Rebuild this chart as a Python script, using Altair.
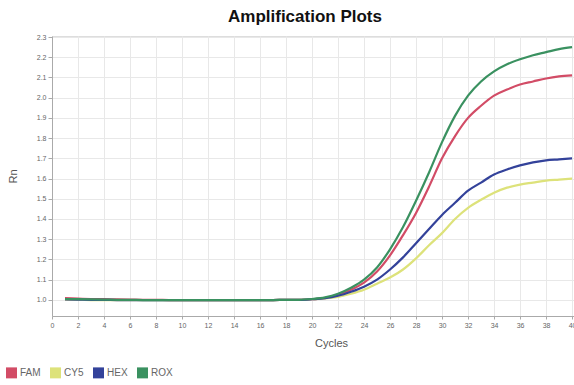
import altair as alt
import pandas as pd

# Cycle numbers and normalized reporter signal (Rn) for each dye
cycles = list(range(1, 41))

fam = [1.008, 1.006, 1.004, 1.003, 1.002, 1.001, 1.000, 1.000, 0.999, 0.999,
       0.999, 0.999, 0.999, 0.999, 0.999, 0.999, 0.999, 1.000, 1.000,
       1.003, 1.008, 1.025, 1.05, 1.085, 1.14, 1.22, 1.32, 1.43, 1.56, 1.70,
       1.81, 1.90, 1.96, 2.01, 2.04, 2.065, 2.08, 2.095, 2.105, 2.11]

cy5 = [1.000, 1.000, 0.999, 0.999, 0.999, 0.999, 0.999, 0.999, 0.999, 0.999,
       0.999, 0.999, 0.999, 0.999, 0.999, 0.999, 0.999, 1.000, 1.000,
       1.003, 1.007, 1.015, 1.03, 1.05, 1.08, 1.11, 1.15, 1.205, 1.27, 1.33,
       1.40, 1.455, 1.495, 1.53, 1.555, 1.57, 1.58, 1.59, 1.595, 1.60]

hex_ = [1.002, 1.001, 1.000, 1.000, 0.999, 0.999, 0.999, 0.999, 0.999, 0.999,
        0.999, 0.999, 0.999, 0.999, 0.999, 0.999, 0.999, 1.000, 1.000,
        1.003, 1.008, 1.02, 1.04, 1.065, 1.10, 1.15, 1.21, 1.28, 1.35, 1.42,
        1.48, 1.54, 1.58, 1.62, 1.645, 1.665, 1.68, 1.69, 1.695, 1.70]

rox = [1.004, 1.003, 1.002, 1.001, 1.000, 1.000, 0.999, 0.999, 0.999, 0.999,
       0.999, 0.999, 0.999, 0.999, 0.999, 0.999, 0.999, 1.000, 1.000,
       1.004, 1.012, 1.03, 1.06, 1.10, 1.16, 1.25, 1.36, 1.49, 1.63, 1.78,
       1.91, 2.01, 2.08, 2.13, 2.165, 2.19, 2.21, 2.225, 2.24, 2.25]

dyes = ["FAM", "CY5", "HEX", "ROX"]
dye_colors = ["#d24c66", "#dde27a", "#33429a", "#3a9160"]

x_ticks = list(range(0, 41, 2))
y_ticks = [round(1.0 + 0.1 * i, 1) for i in range(14)]

rows = []
for name, series in zip(dyes, [fam, cy5, hex_, rox]):
    for c, v in zip(cycles, series):
        rows.append({"dye": name, "cycle": c, "rn": v})
df = pd.DataFrame(rows)

chart = (
    alt.Chart(df)
    .mark_line(strokeWidth=2.2, interpolate="monotone", clip=True)
    .encode(
        x=alt.X(
            "cycle:Q",
            scale=alt.Scale(domain=[0, 40.15], nice=False),
            axis=alt.Axis(
                values=x_ticks,
                title="Cycles",
                labelFontSize=7,
                labelColor="#666666",
                titleFontSize=11,
                titleFontWeight="normal",
                titleColor="#555555",
                titleX=279,
                titlePadding=9,
                tickSize=3,
                tickColor="#aaaaaa",
                domainColor="#aaaaaa",
                gridColor="#e8e8e8",
                labelFlush=False,
            ),
        ),
        y=alt.Y(
            "rn:Q",
            scale=alt.Scale(domain=[0.92, 2.305], nice=False, zero=False),
            axis=alt.Axis(
                values=y_ticks,
                format=".1f",
                title="Rn",
                labelFontSize=7,
                labelColor="#666666",
                titleFontSize=11,
                titleFontWeight="normal",
                titleColor="#555555",
                titleX=-34,
                titleY=140,
                tickSize=4,
                tickColor="#aaaaaa",
                domainColor="#aaaaaa",
                gridColor="#e8e8e8",
                labelFlush=False,
            ),
        ),
        color=alt.Color(
            "dye:N",
            sort=dyes,
            scale=alt.Scale(domain=dyes, range=dye_colors),
            legend=alt.Legend(
                title=None,
                orient="none",
                direction="horizontal",
                legendX=-46,
                legendY=331,
                symbolType="square",
                symbolSize=30,
                symbolStrokeWidth=5.5,
                symbolOpacity=1,
                labelFontSize=10,
                labelColor="#666666",
                columnPadding=0,
                labelOffset=3,
            ),
        ),
    )
    .properties(
        width=522,
        height=280,
        title=alt.Title(
            "Amplification Plots",
            fontSize=17,
            fontWeight="bold",
            font="Liberation Sans",
            color="#111111",
            anchor="middle",
            dx=-8,
            offset=7,
        ),
        autosize=alt.AutoSizeParams(type="none"),
        padding={"left": 52, "top": 36, "right": 0, "bottom": 69},
    )
    .configure_view(stroke="#cccccc", strokeWidth=1.5)
    .configure(font="Liberation Sans", background="white")
)

chart.save("out.html", embed_options={"renderer": "svg", "actions": False})
